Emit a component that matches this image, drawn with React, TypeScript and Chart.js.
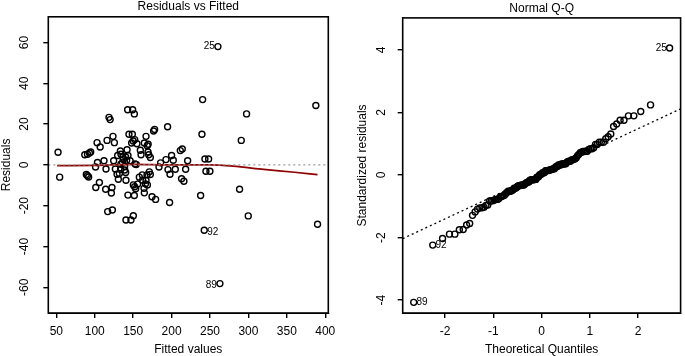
import React, { useEffect, useRef } from "react";
import { Chart, registerables } from "chart.js";

Chart.register(...registerables);

// ---------- Residuals vs Fitted ----------
const fittedValues = [
  52.2, 54.3, 87, 90.5, 93, 94.7, 89, 90.5, 92, 103,
  107, 101, 103.5, 112, 106, 101.3, 114.2, 114.6, 116, 118.5,
  120, 123.7, 125.5, 124.6, 126.8, 122.4, 121.6, 116.8, 122.9, 129.8,
  133.3, 134.1, 130.7, 132, 133.7, 135.9, 137.2, 138.9, 140.2, 140.2,
  141.5, 143.2, 140.6, 139, 142.8, 149.3, 151.5, 144.5, 148.9, 148,
  150, 152, 154.9, 143.2, 140.6, 147.1, 150.2, 150.2, 151.9, 153.2,
  151.5, 152.4, 154, 155.8, 159.3, 160.2, 164.5, 166.7, 168.3, 169.5,
  161.9, 162.3, 164.1, 164.5, 166.7, 168, 171, 172.3, 166, 168.5,
  169.3, 170.2, 172.3, 174.5, 176.6, 177.9, 179.2, 183.6, 185.7, 192.7,
  194.8, 195.3, 197.4, 197.9, 200, 202.2, 204.8, 211.3, 213.9, 213,
  216, 218.3, 220.9, 260.3, 240.4, 239.5, 243.4, 248.2, 244.7, 249.9,
  237.8, 242.5, 262.9, 297.6, 290.7, 288.5, 299.8, 387.8, 390, 136.5,
  142, 146, 134, 129, 158,
];
const residuals = [
  6.2, -6.0, 5.0, 5.2, 5.8, 6.3, -4.7, -5.3, -5.9, 10.9,
  8.8, -1.0, 1.2, 2.0, -8.6, -11.1, -11.9, -2.0, 12.0, 23.3,
  22.2, 14.0, 10.9, 2.0, -2.0, -11.1, -13.8, -22.9, -22.1, 4.6,
  6.8, 5.2, -7.0, -4.2, -2.1, 1.0, 2.6, -0.7, 3.9, -3.7,
  2.3, 4.6, -7.5, -2.5, 27.0, 27.0, 25.0, 15.0, 15.0, 10.7,
  11.7, 12.4, 10.4, -14.8, -27.0, -27.0, -24.9, -9.8, -10.7, -11.7,
  -15.0, 0.5, 0.2, -9.4, 7.2, 5.0, 10.7, 14.0, 9.4, 10.1,
  -4.9, -7.5, -11.5, -13.7, -7.5, -4.9, -3.4, -4.7, -9.3, -9.8,
  6.3, 5.0, 3.6, -15.6, 16.6, 17.4, -16.9, -1.0, 1.0, 2.6,
  18.7, -2.3, -18.4, -4.6, 4.6, 2.3, -2.1, 7.0, 7.8, -6.8,
  -8.0, -2.1, 2.0, 58.0, 32.0, 15.0, 2.9, 2.9, -3.1, -3.1,
  -15.0, -32.0, -58.2, 25.0, 12.0, -11.9, -25.0, 29.1, -29.1, 3.8,
  7.4, 2.0, 0.3, -4.6, -6.0,
];
const smoothFitted = [51, 100, 150, 200, 250, 280, 320, 360, 390];
const smoothResidual = [-0.4, -0.2, 0.3, 0.0, 0.0, -0.6, -2.2, -3.6, -4.8];
const fittedTicks = [50, 100, 150, 200, 250, 300, 350, 400];
const residualTicks = [-60, -40, -20, 0, 20, 40, 60];
const fittedRange = [39.5, 404];
const residualRange = [-72.6, 72.6];
const residualPointLabels = [
  { index: 103, text: "25", side: "left", dy: 0 },
  { index: 111, text: "92", side: "right", dy: 2 },
  { index: 112, text: "89", side: "left", dy: 2 },
];

// ---------- Normal Q-Q ----------
const theoreticalQuantiles = [
  -2.652, -2.257, -2.054, -1.911, -1.799, -1.706, -1.626, -1.555, -1.491, -1.433,
  -1.379, -1.329, -1.282, -1.237, -1.195, -1.155, -1.117, -1.080, -1.045, -1.011,
  -0.978, -0.946, -0.915, -0.885, -0.856, -0.827, -0.800, -0.772, -0.745, -0.719,
  -0.694, -0.668, -0.643, -0.619, -0.595, -0.571, -0.548, -0.524, -0.502, -0.479,
  -0.456, -0.434, -0.412, -0.391, -0.369, -0.348, -0.327, -0.305, -0.285, -0.264,
  -0.243, -0.222, -0.202, -0.181, -0.161, -0.141, -0.120, -0.100, -0.080, -0.060,
  -0.040, -0.020, 0,
  0.020, 0.040, 0.060, 0.080, 0.100, 0.120, 0.141, 0.161, 0.181, 0.202,
  0.222, 0.243, 0.264, 0.285, 0.305, 0.327, 0.348, 0.369, 0.391, 0.412,
  0.434, 0.456, 0.479, 0.502, 0.524, 0.548, 0.571, 0.595, 0.619, 0.643,
  0.668, 0.694, 0.719, 0.745, 0.772, 0.800, 0.827, 0.856, 0.885, 0.915,
  0.946, 0.978, 1.011, 1.045, 1.080, 1.117, 1.155, 1.195, 1.237, 1.282,
  1.329, 1.379, 1.433, 1.491, 1.555, 1.626, 1.706, 1.799, 1.911, 2.054,
  2.257, 2.652,
];
const standardizedResiduals = [
  -4.07, -2.24, -2.03, -1.89, -1.89, -1.75, -1.74, -1.60, -1.55, -1.29,
  -1.18, -1.09, -1.05, -1.05, -1.03, -0.97, -0.96, -0.83, -0.83, -0.82,
  -0.80, -0.78, -0.78, -0.75, -0.69, -0.69, -0.66, -0.65, -0.60, -0.56,
  -0.52, -0.52, -0.52, -0.49, -0.48, -0.42, -0.42, -0.41, -0.37, -0.34,
  -0.34, -0.33, -0.33, -0.32, -0.32, -0.29, -0.26, -0.24, -0.22, -0.22,
  -0.17, -0.16, -0.15, -0.15, -0.15, -0.14, -0.14, -0.07, -0.07, -0.05,
  0.01, 0.02, 0.03, 0.07, 0.07, 0.08, 0.14, 0.14, 0.14, 0.14,
  0.16, 0.16, 0.18, 0.18, 0.20, 0.20, 0.25, 0.27, 0.27, 0.32,
  0.32, 0.32, 0.35, 0.35, 0.35, 0.36, 0.36, 0.41, 0.43, 0.44,
  0.44, 0.48, 0.49, 0.50, 0.52, 0.55, 0.62, 0.66, 0.71, 0.73,
  0.75, 0.75, 0.76, 0.76, 0.82, 0.84, 0.84, 0.87, 0.98, 0.98,
  1.05, 1.05, 1.05, 1.16, 1.22, 1.31, 1.55, 1.63, 1.75, 1.75,
  1.89, 1.89, 2.03, 2.24, 4.06,
];
const quantileTicks = [-2, -1, 0, 1, 2];
const stdResidualTicks = [-4, -2, 0, 2, 4];
const quantileRange = [-2.88, 2.88];
const stdResidualRange = [-4.41, 5.02];
const qqLineIntercept = 0.04;
const qqLineSlope = 0.72;
const qqPointLabels = [
  { index: 124, text: "25", side: "left", dy: 0 },
  { index: 1, text: "92", side: "right", dy: 0.5 },
  { index: 0, text: "89", side: "right", dy: 0 },
];

const FONT_FAMILY = '"Liberation Sans", Arial, Helvetica, sans-serif';

function decorPlugin(id: string, pointDataset: number, labels: any[], gap: number) {
  return {
    id,
    afterDatasetsDraw(chart: any) {
      const { ctx, chartArea } = chart;
      ctx.save();
      ctx.strokeStyle = "#000";
      ctx.lineWidth = 1.6;
      ctx.strokeRect(
        chartArea.left,
        chartArea.top,
        chartArea.right - chartArea.left,
        chartArea.bottom - chartArea.top
      );
      const meta = chart.getDatasetMeta(pointDataset);
      ctx.fillStyle = "#000";
      ctx.font = `10px ${FONT_FAMILY}`;
      ctx.textBaseline = "middle";
      labels.forEach((l) => {
        const el = meta.data[l.index];
        if (!el) return;
        if (l.side === "left") {
          ctx.textAlign = "right";
          ctx.fillText(l.text, el.x - gap, el.y + l.dy);
        } else {
          ctx.textAlign = "left";
          ctx.fillText(l.text, el.x + gap, el.y + l.dy);
        }
      });
      ctx.restore();
    },
  };
}

function axisCommon(
  range: number[],
  tickValues: number[],
  titleText: string,
  titlePad: any,
  isY: boolean,
  size: number,
  tickPad: number
) {
  return {
    type: "linear",
    min: range[0],
    max: range[1],
    afterBuildTicks: (ax: any) => {
      ax.ticks = tickValues.map((v) => ({ value: v }));
    },
    afterFit: (ax: any) => {
      if (isY) ax.width = size;
      else ax.height = size;
    },
    grid: {
      drawOnChartArea: false,
      drawTicks: true,
      tickLength: 5,
      color: "#000",
      lineWidth: 1.4,
    },
    border: { display: true, color: "#000", width: 1 },
    ticks: {
      color: "#000",
      font: { family: FONT_FAMILY, size: 12 },
      padding: tickPad,
      autoSkip: false,
      ...(isY
        ? { minRotation: 90, maxRotation: 90, crossAlign: "center" }
        : { maxRotation: 0, minRotation: 0 }),
    },
    title: {
      display: true,
      text: titleText,
      color: "#000",
      font: { family: FONT_FAMILY, size: 12, lineHeight: 1 },
      padding: titlePad,
    },
  };
}

function pointDataset(data: { x: number; y: number }[]) {
  return {
    data,
    showLine: false,
    pointRadius: 3,
    pointHoverRadius: 3,
    pointBorderWidth: 1.4,
    pointBorderColor: "#000",
    pointBackgroundColor: "rgba(0,0,0,0)",
  };
}

function residualsConfig(): any {
  const points = fittedValues.map((x, i) => ({ x, y: residuals[i] }));
  const smooth = smoothFitted.map((x, i) => ({ x, y: smoothResidual[i] }));
  const zero = [
    { x: fittedRange[0], y: 0 },
    { x: fittedRange[1], y: 0 },
  ];
  return {
    type: "scatter",
    data: {
      datasets: [
        {
          data: zero,
          showLine: true,
          borderColor: "#999999",
          borderWidth: 1.3,
          borderDash: [2, 3],
          pointRadius: 0,
        },
        {
          data: smooth,
          showLine: true,
          borderColor: "#8f0000",
          borderWidth: 1.7,
          pointRadius: 0,
          cubicInterpolationMode: "monotone",
        },
        pointDataset(points),
      ],
    },
    options: {
      responsive: false,
      animation: false,
      events: [],
      layout: { padding: { left: 0, right: 13.7, top: 0, bottom: 0 } },
      plugins: {
        legend: { display: false },
        tooltip: { enabled: false },
        title: {
          display: true,
          text: "Residuals vs Fitted",
          color: "#000",
          fullSize: false,
          font: { family: FONT_FAMILY, size: 12, weight: "normal", lineHeight: 1 },
          padding: { top: 0, bottom: 3.7 },
        },
      },
      scales: {
        x: axisCommon(fittedRange, fittedTicks, "Fitted values", { top: 0, bottom: 0 }, false, 43, 6),
        y: axisCommon(residualRange, residualTicks, "Residuals", { top: 1, bottom: 0 }, true, 48.3, 9.6),
      },
    },
    plugins: [decorPlugin("decorLeft", 2, residualPointLabels, 3)],
  };
}

function qqConfig(): any {
  const points = theoreticalQuantiles.map((x, i) => ({ x, y: standardizedResiduals[i] }));
  const line = quantileRange.map((x) => ({ x, y: qqLineIntercept + qqLineSlope * x }));
  return {
    type: "scatter",
    data: {
      datasets: [
        {
          data: line,
          showLine: true,
          borderColor: "#000",
          borderWidth: 1.3,
          borderDash: [2, 3],
          pointRadius: 0,
        },
        pointDataset(points),
      ],
    },
    options: {
      responsive: false,
      animation: false,
      events: [],
      layout: { padding: { left: 0, right: 1.7, top: 0, bottom: 0 } },
      plugins: {
        legend: { display: false },
        tooltip: { enabled: false },
        title: {
          display: true,
          text: "Normal Q-Q",
          color: "#000",
          fullSize: false,
          font: { family: FONT_FAMILY, size: 12, weight: "normal", lineHeight: 1 },
          padding: { top: 0, bottom: 3.7 },
        },
      },
      scales: {
        x: axisCommon(quantileRange, quantileTicks, "Theoretical Quantiles", { top: 0, bottom: 0 }, false, 43, 6),
        y: axisCommon(stdResidualRange, stdResidualTicks, "Standardized residuals", { top: 15, bottom: 0 }, true, 60.7, 10.7),
      },
    },
    plugins: [decorPlugin("decorRight", 1, qqPointLabels, 2.7)],
  };
}

export default function App() {
  const leftRef = useRef<HTMLCanvasElement>(null);
  const rightRef = useRef<HTMLCanvasElement>(null);

  useEffect(() => {
    const c1 = new Chart(leftRef.current as HTMLCanvasElement, residualsConfig());
    const c2 = new Chart(rightRef.current as HTMLCanvasElement, qqConfig());
    return () => {
      c1.destroy();
      c2.destroy();
    };
  }, []);

  return (
    <div
      style={{
        position: "absolute",
        left: 0,
        top: 0,
        width: 685,
        height: 356,
        background: "#fff",
        overflow: "hidden",
      }}
    >
      <canvas
        ref={leftRef}
        width={342}
        height={356}
        style={{ position: "absolute", left: 0, top: 0 }}
      />
      <canvas
        ref={rightRef}
        width={343}
        height={356}
        style={{ position: "absolute", left: 342, top: 0 }}
      />
    </div>
  );
}
